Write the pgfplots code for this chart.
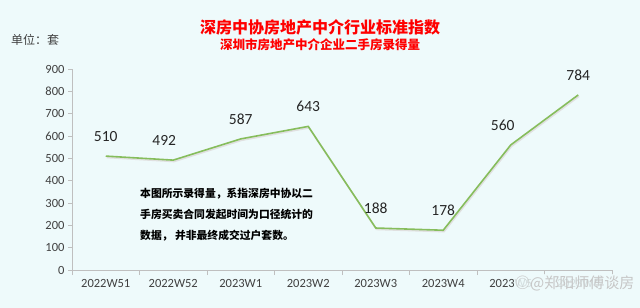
\documentclass[border=0pt]{standalone}
\usepackage{pgfplots}
\pgfplotsset{compat=1.18}
\usepackage{fontspec}
\setmainfont{Carlito}
\newfontfamily\cjk{Noto Sans CJK SC}
\definecolor{bgc}{HTML}{EEFAFB}
\definecolor{linec}{HTML}{86BD5C}
\definecolor{txt}{HTML}{404040}
\definecolor{axc}{HTML}{BFBFBF}
\pgfplotstableread{
x y dx
0 510 0
1 492 -9
2 587 0
3 643 0
4 188 0
5 178 0
6 560 -8
7 784 0
}\datatable
\begin{document}
\begin{tikzpicture}
\fill[bgc] (0,0) rectangle (640bp,308bp);
\begin{axis}[
  at={(72bp,38bp)}, anchor=south west,
  scale only axis, width=540bp, height=201bp,
  xmin=-0.5, xmax=7.5, ymin=0, ymax=900,
  ytick={0,100,...,900},
  xtick={0,...,7},
  xticklabels={2022W51,2022W52,2023W1,2023W2,2023W3,2023W4,2023W5,2023W6},
  minor xtick={-0.5,0.5,...,7.5},
  major x tick style={draw=none},
  axis x line=bottom, axis y line=left,
  axis line style={draw=axc, line width=0.8bp, -},
  tick style={draw=axc, line width=0.8bp},
  tick align=outside,
  major tick length=4bp, minor tick length=5bp,
  /pgf/number format/assume math mode=true,
  ticklabel style={font=\fontsize{12.5bp}{12.5bp}\selectfont, text=txt},
  xticklabel style={yshift=-1.5bp},
  clip=false,
]
\addplot[color=black!12, line width=1.6bp, no markers, xshift=0.8bp, yshift=-1.4bp, forget plot] table[x=x, y=y] {\datatable};
\addplot[color=linec, line width=1.6bp, no markers,
  nodes near coords,
  point meta=explicit symbolic,
  visualization depends on={\thisrow{dx} \as \dx},
  every node near coord/.append style={anchor=center, yshift=20bp, xshift=\dx bp, text=black!85, font=\fontsize{15.5bp}{15.5bp}\selectfont}
] table[x=x, y=y, meta=y] {\datatable};
\end{axis}
% titles
\node[text=red, font=\cjk\fontsize{16bp}{16bp}\selectfont\bfseries] at (320bp,281bp) {深房中协房地产中介行业标准指数};
\node[text=red, font=\cjk\fontsize{12.5bp}{12.5bp}\selectfont\bfseries] at (320bp,263bp) {深圳市房地产中介企业二手房录得量};
\node[text=txt, anchor=west, inner sep=0pt, font=\cjk\fontsize{12bp}{12bp}\selectfont] at (11bp,268bp) {单位：套};
% note
\node[anchor=north west, inner sep=0pt, align=left, text=black, font=\cjk\fontsize{10.8bp}{21bp}\selectfont\bfseries] at (140bp,120bp)
  {本图所示录得量，系指深房中协以二\\手房买卖合同发起时间为口径统计的\\数据，\ 并非最终成交过户套数。};
% watermark
\node[anchor=west, fill=bgc, fill opacity=0.85, text opacity=1, text=gray!45, inner sep=1pt, font=\cjk\fontsize{15bp}{15bp}\selectfont] at (514bp,25bp)
  {◎@郑阳师傅谈房};
\pgfresetboundingbox
\useasboundingbox (0,0) rectangle (640bp,308bp);
\end{tikzpicture}
\end{document}
